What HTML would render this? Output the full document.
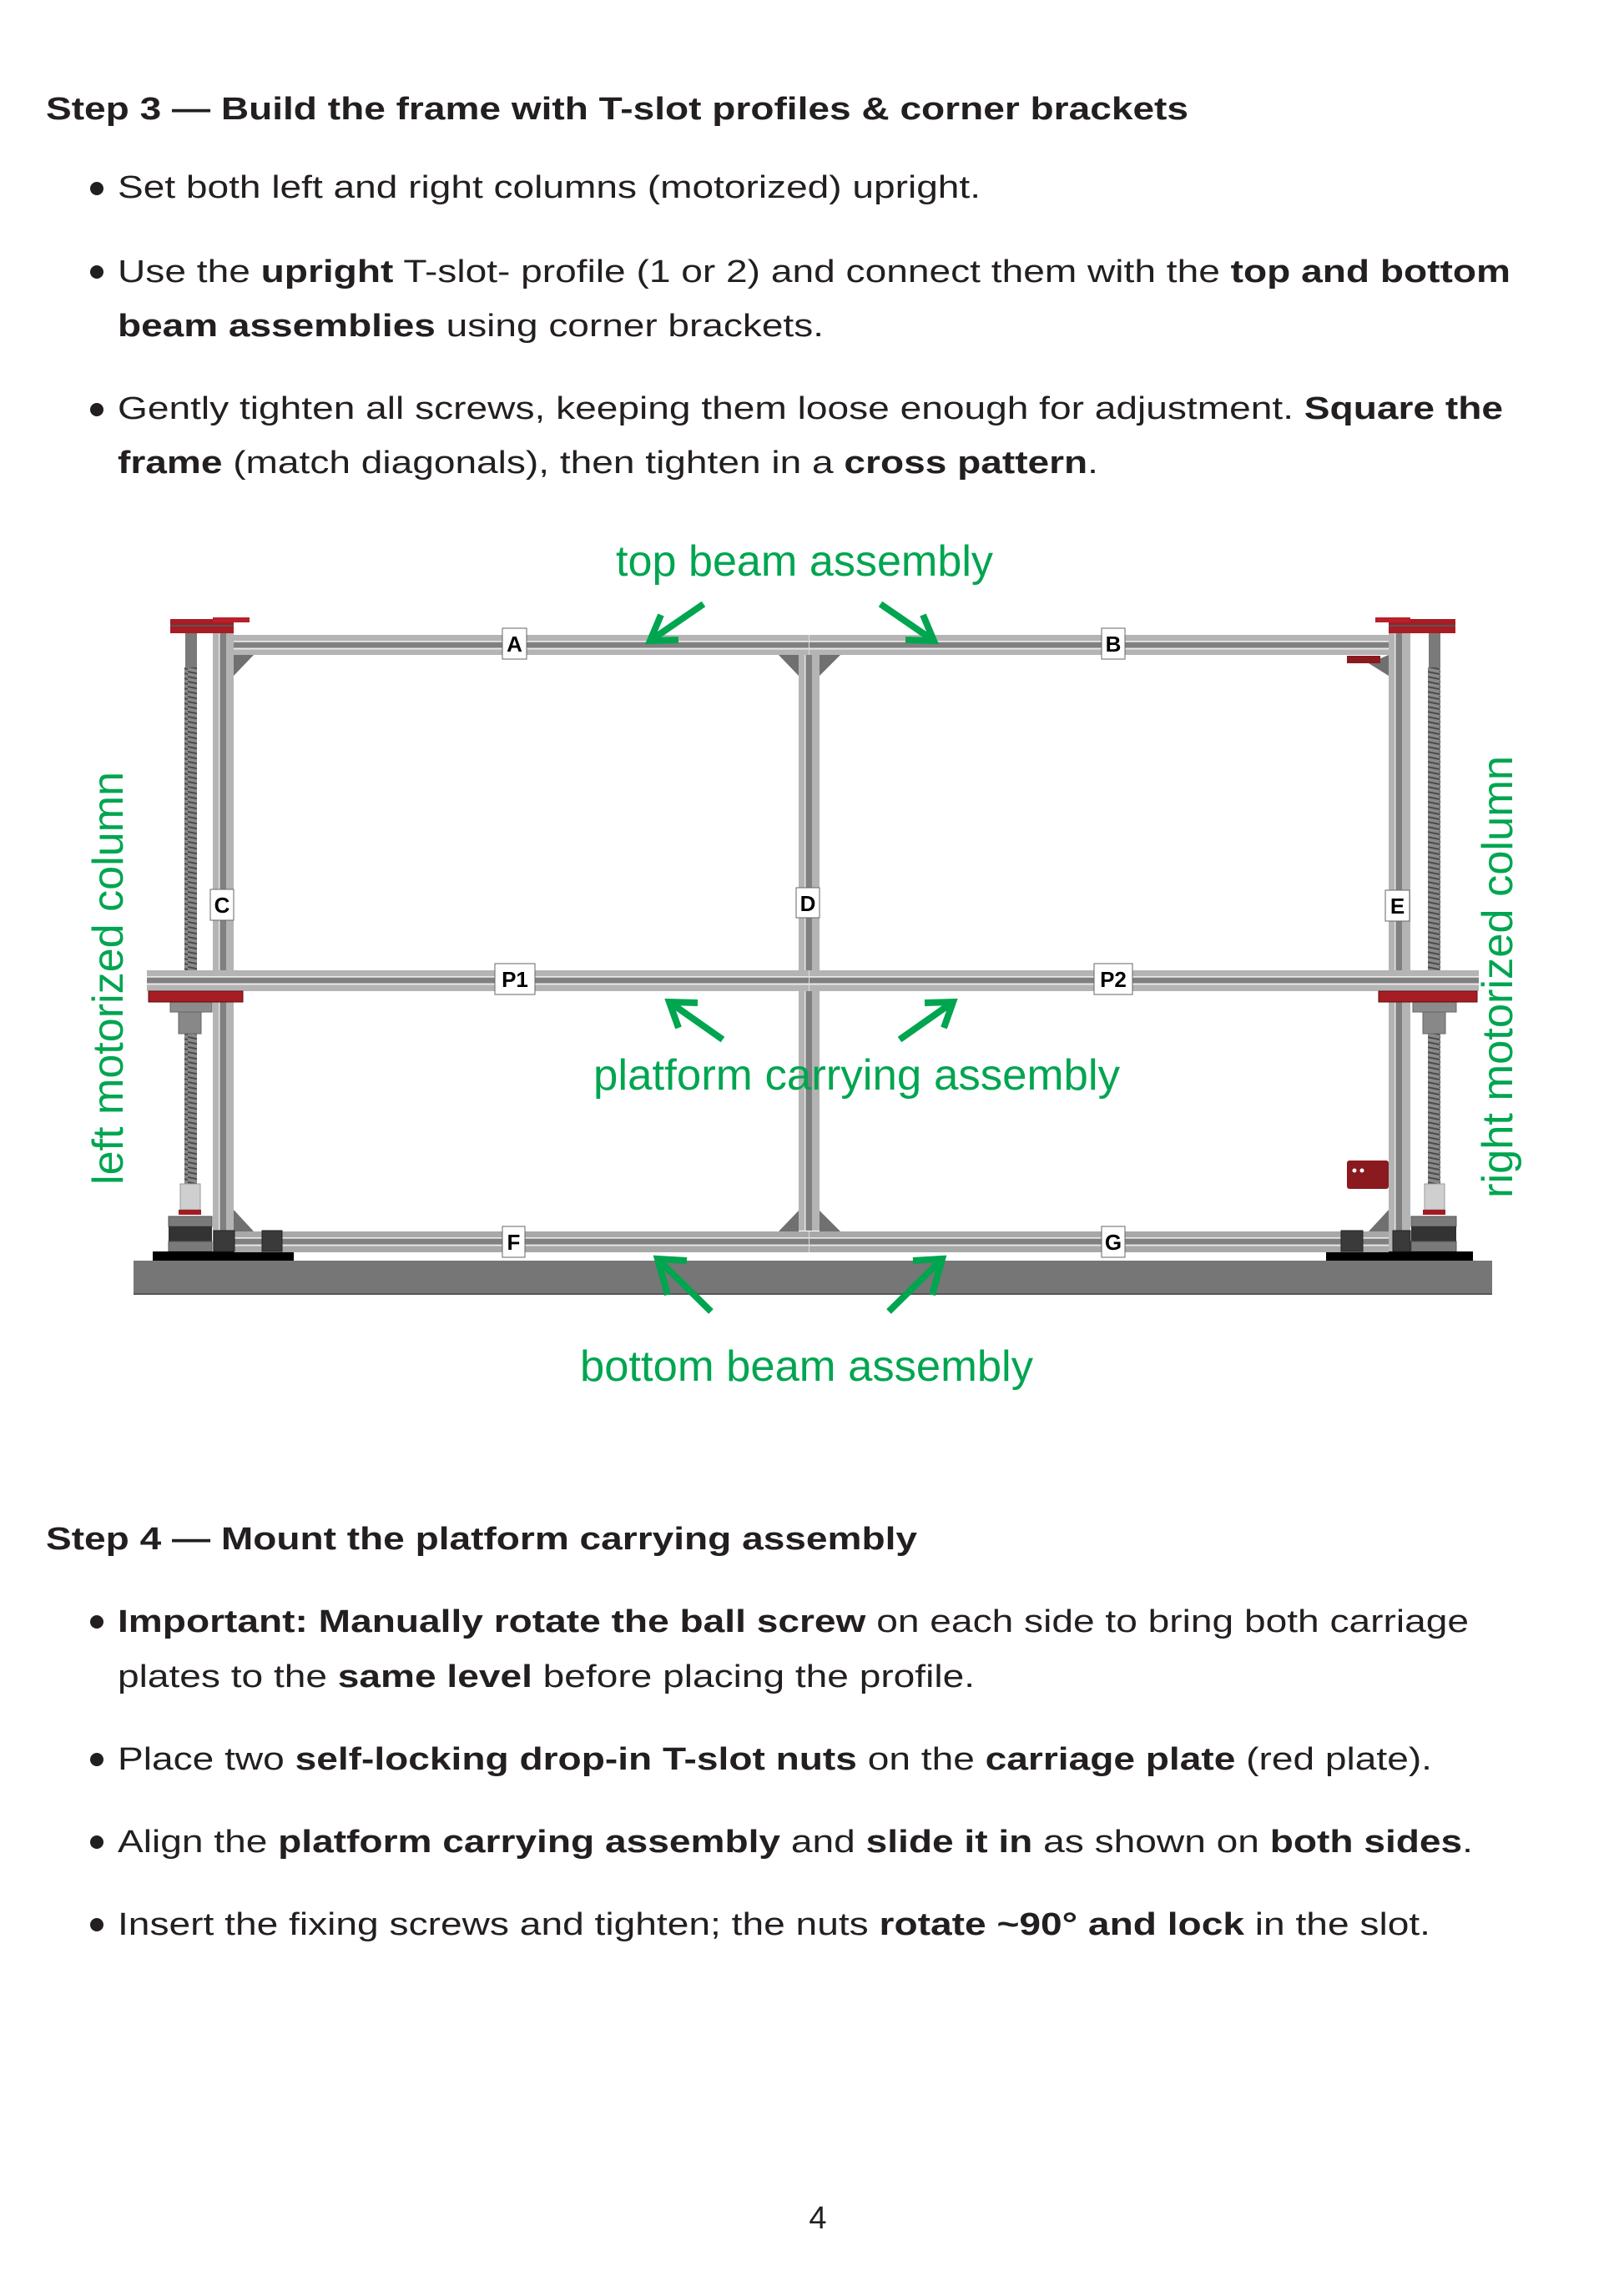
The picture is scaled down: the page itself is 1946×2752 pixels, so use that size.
<!DOCTYPE html>
<html><head><meta charset="utf-8"><style>
html,body{margin:0;padding:0;background:#fff;}
svg{display:block;}
text{font-family:"Liberation Sans",Arial,sans-serif;}
</style></head><body>
<svg xmlns="http://www.w3.org/2000/svg" width="1946" height="2752" viewBox="0 0 1946 2752">
<defs>
<pattern id="thr" width="15" height="6" patternUnits="userSpaceOnUse">
<rect width="15" height="6" fill="#8a8a8a"/>
<path d="M0 1 L15 4" stroke="#4a4a4a" stroke-width="2"/>
</pattern>
</defs>
<rect width="1946" height="2752" fill="#fff"/>

<!-- Step 3 text -->
<g fill="#231f20" font-size="38">
<text x="55" y="143" font-weight="bold" textLength="1369" lengthAdjust="spacingAndGlyphs">Step 3 — Build the frame with T-slot profiles &amp; corner brackets</text>
<circle cx="116" cy="226" r="8"/>
<text x="141" y="237" textLength="1034" lengthAdjust="spacingAndGlyphs">Set both left and right columns (motorized) upright.</text>
<circle cx="116" cy="326" r="8"/>
<text x="141" y="338" textLength="1669" lengthAdjust="spacingAndGlyphs">Use the <tspan font-weight="bold">upright</tspan> T-slot- profile (1 or 2) and connect them with the <tspan font-weight="bold">top and bottom</tspan></text>
<text x="141" y="403" textLength="846" lengthAdjust="spacingAndGlyphs"><tspan font-weight="bold">beam assemblies</tspan> using corner brackets.</text>
<circle cx="116" cy="491" r="8"/>
<text x="141" y="502" textLength="1660" lengthAdjust="spacingAndGlyphs">Gently tighten all screws, keeping them loose enough for adjustment. <tspan font-weight="bold">Square the</tspan></text>
<text x="141" y="567" textLength="1175" lengthAdjust="spacingAndGlyphs"><tspan font-weight="bold">frame</tspan> (match diagonals), then tighten in a <tspan font-weight="bold">cross pattern</tspan>.</text>
</g>

<!-- Floor -->
<rect x="160" y="1511" width="1628" height="41" fill="#767676"/>
<rect x="160" y="1550" width="1628" height="2" fill="#555"/>

<!-- Left screw -->
<rect x="222" y="759" width="14" height="42" fill="#7a7a7a"/>
<rect x="221" y="800" width="15" height="363" fill="url(#thr)"/>
<rect x="221" y="1239" width="15" height="180" fill="url(#thr)"/>
<rect x="204" y="1201" width="50" height="12" fill="#8c8c8c" stroke="#666" stroke-width="1"/>
<rect x="214" y="1213" width="27" height="26" fill="#888" stroke="#666" stroke-width="1"/>
<rect x="216" y="1419" width="24" height="31" fill="#cfcfcf" stroke="#999" stroke-width="1"/>
<rect x="214" y="1450" width="27" height="6" fill="#a01c22"/>
<rect x="202" y="1458" width="52" height="12" fill="#7a7a7a" stroke="#555"/>
<rect x="202" y="1470" width="52" height="18" fill="#333"/>
<rect x="202" y="1488" width="52" height="12" fill="#7a7a7a" stroke="#555"/>
<rect x="183" y="1500" width="169" height="11" fill="#000"/>

<!-- Right screw -->
<rect x="1712" y="759" width="14" height="42" fill="#7a7a7a"/>
<rect x="1711" y="800" width="15" height="363" fill="url(#thr)"/>
<rect x="1711" y="1239" width="15" height="180" fill="url(#thr)"/>
<rect x="1693" y="1201" width="52" height="12" fill="#8c8c8c" stroke="#666" stroke-width="1"/>
<rect x="1705" y="1213" width="27" height="26" fill="#888" stroke="#666" stroke-width="1"/>
<rect x="1707" y="1419" width="24" height="31" fill="#cfcfcf" stroke="#999" stroke-width="1"/>
<rect x="1705" y="1450" width="27" height="6" fill="#a01c22"/>
<rect x="1691" y="1458" width="54" height="12" fill="#7a7a7a" stroke="#555"/>
<rect x="1691" y="1470" width="54" height="18" fill="#333"/>
<rect x="1691" y="1488" width="54" height="12" fill="#7a7a7a" stroke="#555"/>
<rect x="1589" y="1500" width="176" height="11" fill="#000"/>

<!-- Vertical columns -->
<g>
<rect x="255" y="745" width="25" height="755" fill="#b4b4b4"/>
<rect x="264" y="745" width="7" height="755" fill="#808080"/>
<rect x="262" y="745" width="1" height="755" fill="#e6e6e6"/>
<rect x="957" y="785" width="25" height="690" fill="#b4b4b4"/>
<rect x="966" y="785" width="7" height="690" fill="#808080"/>
<rect x="964" y="785" width="1" height="690" fill="#e6e6e6"/>
<rect x="1664" y="745" width="26" height="755" fill="#b4b4b4"/>
<rect x="1673" y="745" width="7" height="755" fill="#808080"/>
<rect x="1671" y="745" width="1" height="755" fill="#e6e6e6"/>
</g>

<!-- Horizontal beams -->
<g>
<rect x="280" y="761" width="1384" height="24" fill="#b4b4b4"/>
<rect x="280" y="768" width="1384" height="1.5" fill="#e8e8e8"/>
<rect x="280" y="770" width="1384" height="6" fill="#808080"/>
<rect x="280" y="777" width="1384" height="1.5" fill="#e8e8e8"/>

<rect x="176" y="1163" width="1596" height="25" fill="#b4b4b4"/>
<rect x="176" y="1170" width="1596" height="1.5" fill="#e8e8e8"/>
<rect x="176" y="1172" width="1596" height="6" fill="#808080"/>
<rect x="176" y="1179" width="1596" height="1.5" fill="#e8e8e8"/>

<rect x="280" y="1476" width="1384" height="25" fill="#a8a8a8"/>
<rect x="280" y="1483" width="1384" height="1.5" fill="#e8e8e8"/>
<rect x="280" y="1485" width="1384" height="6" fill="#808080"/>
<rect x="280" y="1492" width="1384" height="1.5" fill="#e8e8e8"/>
<rect x="969" y="761" width="1" height="24" fill="#ddd"/>
<rect x="969" y="1163" width="1" height="25" fill="#ddd"/>
<rect x="969" y="1476" width="1" height="25" fill="#ddd"/>
</g>

<!-- gussets -->
<g fill="#707070">
<polygon points="280,785 304,785 280,810"/>
<polygon points="280,1450 280,1476 304,1476"/>
<polygon points="933,785 957,785 957,810"/>
<polygon points="982,785 1007,785 982,810"/>
<polygon points="957,1451 957,1476 933,1476"/>
<polygon points="982,1451 982,1476 1007,1476"/>
<polygon points="1664,1450 1664,1476 1640,1476"/>
<polygon points="1664,785 1664,810 1640,795"/>
</g>

<!-- red plates -->
<g>
<rect x="204" y="742" width="76" height="17" fill="#a81c24"/>
<rect x="204" y="749" width="76" height="2" fill="#555"/>
<rect x="255" y="740" width="44" height="6" fill="#b8202a"/>
<rect x="1664" y="742" width="80" height="17" fill="#a81c24"/>
<rect x="1664" y="749" width="80" height="2" fill="#555"/>
<rect x="1648" y="740" width="42" height="6" fill="#b8202a"/>
<rect x="178" y="1188" width="113" height="13" fill="#a81c24" stroke="#5a0e10" stroke-width="1"/>
<rect x="1652" y="1188" width="118" height="13" fill="#a81c24" stroke="#5a0e10" stroke-width="1"/>
<rect x="1614" y="786" width="40" height="9" fill="#8a1a1e"/>
<rect x="1614" y="1391" width="50" height="34" rx="3" fill="#8a1a1e"/>
<circle cx="1623" cy="1403" r="2.5" fill="#fff"/>
<circle cx="1632" cy="1403" r="2.5" fill="#fff"/>
</g>

<!-- bottom brackets -->
<g fill="#3a3a3a" stroke="#222">
<rect x="256" y="1475" width="25" height="25"/>
<rect x="314" y="1475" width="24" height="25"/>
<rect x="1607" y="1475" width="26" height="25"/>
<rect x="1669" y="1475" width="21" height="25"/>
</g>

<!-- labels -->
<g font-size="26" font-weight="bold" text-anchor="middle">
<rect x="602" y="753" width="29" height="37" fill="#fff" stroke="#666"/><text x="616.5" y="781">A</text>
<rect x="1320" y="753" width="28" height="37" fill="#fff" stroke="#666"/><text x="1334" y="781">B</text>
<rect x="252" y="1066" width="28" height="37" fill="#fff" stroke="#666"/><text x="266" y="1094">C</text>
<rect x="954" y="1064" width="28" height="36" fill="#fff" stroke="#666"/><text x="968" y="1092">D</text>
<rect x="1660" y="1067" width="29" height="37" fill="#fff" stroke="#666"/><text x="1674.5" y="1095">E</text>
<rect x="593" y="1155" width="48" height="37" fill="#fff" stroke="#666"/><text x="617" y="1183">P1</text>
<rect x="1311" y="1155" width="46" height="37" fill="#fff" stroke="#666"/><text x="1334" y="1183">P2</text>
<rect x="602" y="1470" width="27" height="37" fill="#fff" stroke="#666"/><text x="615.5" y="1498">F</text>
<rect x="1320" y="1470" width="28" height="37" fill="#fff" stroke="#666"/><text x="1334" y="1498">G</text>
</g>

<!-- green labels -->
<g fill="#00a550" font-size="52">
<text x="738" y="690" textLength="452" lengthAdjust="spacingAndGlyphs">top beam assembly</text>
<text x="711" y="1306" textLength="631" lengthAdjust="spacingAndGlyphs">platform carrying assembly</text>
<text x="695" y="1655" textLength="543" lengthAdjust="spacingAndGlyphs">bottom beam assembly</text>
<text transform="translate(147,1420) rotate(-90)" textLength="495" lengthAdjust="spacingAndGlyphs">left motorized column</text>
<text transform="translate(1812,1436) rotate(-90)" textLength="530" lengthAdjust="spacingAndGlyphs">right motorized column</text>
</g>

<!-- arrows -->
<g stroke="#00a550" stroke-width="8" fill="none" stroke-linecap="butt">
<path d="M843 724 L779 768 M792 737 L779 768 L813 767"/>
<path d="M1055 724 L1119 768 M1106 737 L1119 768 L1085 767"/>
<path d="M866 1246 L802 1201 M813 1232 L802 1201 L836 1202"/>
<path d="M1078 1246 L1142 1201 M1131 1232 L1142 1201 L1108 1202"/>
<path d="M852 1572 L788 1509 M800 1552 L788 1509 L823 1511"/>
<path d="M1065 1572 L1129 1509 M1117 1552 L1129 1509 L1094 1511"/>
</g>

<!-- Step 4 text -->
<g fill="#231f20" font-size="38">
<text x="55" y="1857" font-weight="bold" textLength="1044" lengthAdjust="spacingAndGlyphs">Step 4 — Mount the platform carrying assembly</text>
<circle cx="116" cy="1944" r="8"/>
<text x="141" y="1956" textLength="1619" lengthAdjust="spacingAndGlyphs"><tspan font-weight="bold">Important: Manually rotate the ball screw</tspan> on each side to bring both carriage</text>
<text x="141" y="2022" textLength="1027" lengthAdjust="spacingAndGlyphs">plates to the <tspan font-weight="bold">same level</tspan> before placing the profile.</text>
<circle cx="116" cy="2109" r="8"/>
<text x="141" y="2121" textLength="1575" lengthAdjust="spacingAndGlyphs">Place two <tspan font-weight="bold">self-locking drop-in T-slot nuts</tspan> on the <tspan font-weight="bold">carriage plate</tspan> (red plate).</text>
<circle cx="116" cy="2208" r="8"/>
<text x="141" y="2220" textLength="1624" lengthAdjust="spacingAndGlyphs">Align the <tspan font-weight="bold">platform carrying assembly</tspan> and <tspan font-weight="bold">slide it in</tspan> as shown on <tspan font-weight="bold">both sides</tspan>.</text>
<circle cx="116" cy="2307" r="8"/>
<text x="141" y="2319" textLength="1573" lengthAdjust="spacingAndGlyphs">Insert the fixing screws and tighten; the nuts <tspan font-weight="bold">rotate ~90° and lock</tspan> in the slot.</text>
<text x="980" y="2671" text-anchor="middle">4</text>
</g>
</svg>
</body></html>
